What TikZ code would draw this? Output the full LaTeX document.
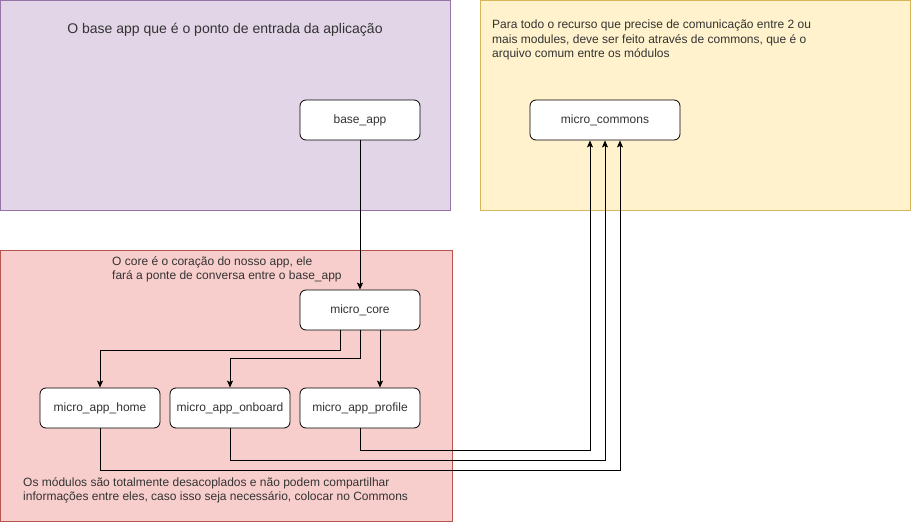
\documentclass[tikz,border=0pt]{standalone}
\usepackage{fontspec}
\setmainfont{Liberation Sans}
\usetikzlibrary{arrows.meta}
\definecolor{purplefill}{HTML}{E1D5E7}
\definecolor{purpleline}{HTML}{9673A6}
\definecolor{yellowfill}{HTML}{FFF2CC}
\definecolor{yellowline}{HTML}{D6B656}
\definecolor{redfill}{HTML}{F8CECC}
\definecolor{redline}{HTML}{B85450}
\definecolor{txt}{HTML}{333333}
\tikzset{
  mod/.style={draw=black, fill=white, rounded corners=6pt, minimum width=120pt, minimum height=40pt, inner sep=0pt, line width=0.8pt, text=txt, font=\fontsize{12}{14}\selectfont},
  arr/.style={line width=0.9pt, -{Stealth[length=7pt,width=6pt,inset=1.5pt]}},
  note/.style={text=txt, align=left, anchor=north west, inner sep=0pt, font=\fontsize{12}{14.5}\selectfont}
}
\begin{document}
\begin{tikzpicture}[x=1pt,y=-1pt]
\useasboundingbox (0,0) rectangle (911,522);
% group boxes
\path[draw=purpleline, fill=purplefill, line width=0.9pt] (0.5,0.5) rectangle (450,210);
\path[draw=yellowline, fill=yellowfill, line width=0.9pt] (480,0.5) rectangle (910,210);
\path[draw=redline, fill=redfill, line width=0.9pt] (0.5,250) rectangle (452,521);
% texts
\node[text=txt, font=\fontsize{14}{17}\selectfont, inner sep=0pt] (t1) at (225,30) {O base app que é o ponto de entrada da aplicação};
\node[note] (t2) at (492,20) {Para todo o recurso que precise de comunicação entre 2 ou\\mais modules, deve ser feito através de commons, que é o\\arquivo comum entre os módulos};
\node[note] (t3) at (112,256) {O core é o coração do nosso app, ele\\fará a ponte de conversa entre o base\_app};
\node[note] (t4) at (23,477) {Os módulos são totalmente desacoplados e não podem compartilhar\\informações entre eles, caso isso seja necessário, colocar no Commons};
% modules
\node[mod] (base) at (360,120) {base\_app};
\node[mod, minimum width=150pt] (com) at (605,120) {micro\_commons};
\node[mod] (core) at (360,310) {micro\_core};
\node[mod] (home) at (100,408) {micro\_app\_home};
\node[mod] (onb) at (230,408) {micro\_app\_onboard};
\node[mod] (prof) at (360,408) {micro\_app\_profile};
% connectors
\draw[arr] (base.south) -- (core.north);
\draw[arr] ([xshift=-20pt]core.south) -- ++(0,20) -| (home.north);
\draw[arr] (core.south) -- ++(0,28) -| (onb.north);
\draw[arr] ([xshift=20pt]core.south) -- ([xshift=20pt]prof.north);
\draw[arr] (prof.south) -- ++(0,22) -| ([xshift=-15pt]com.south);
\draw[arr] (onb.south) -- ++(0,32) -| (com.south);
\draw[arr] (home.south) -- ++(0,42) -| ([xshift=15pt]com.south);
\end{tikzpicture}
\end{document}
